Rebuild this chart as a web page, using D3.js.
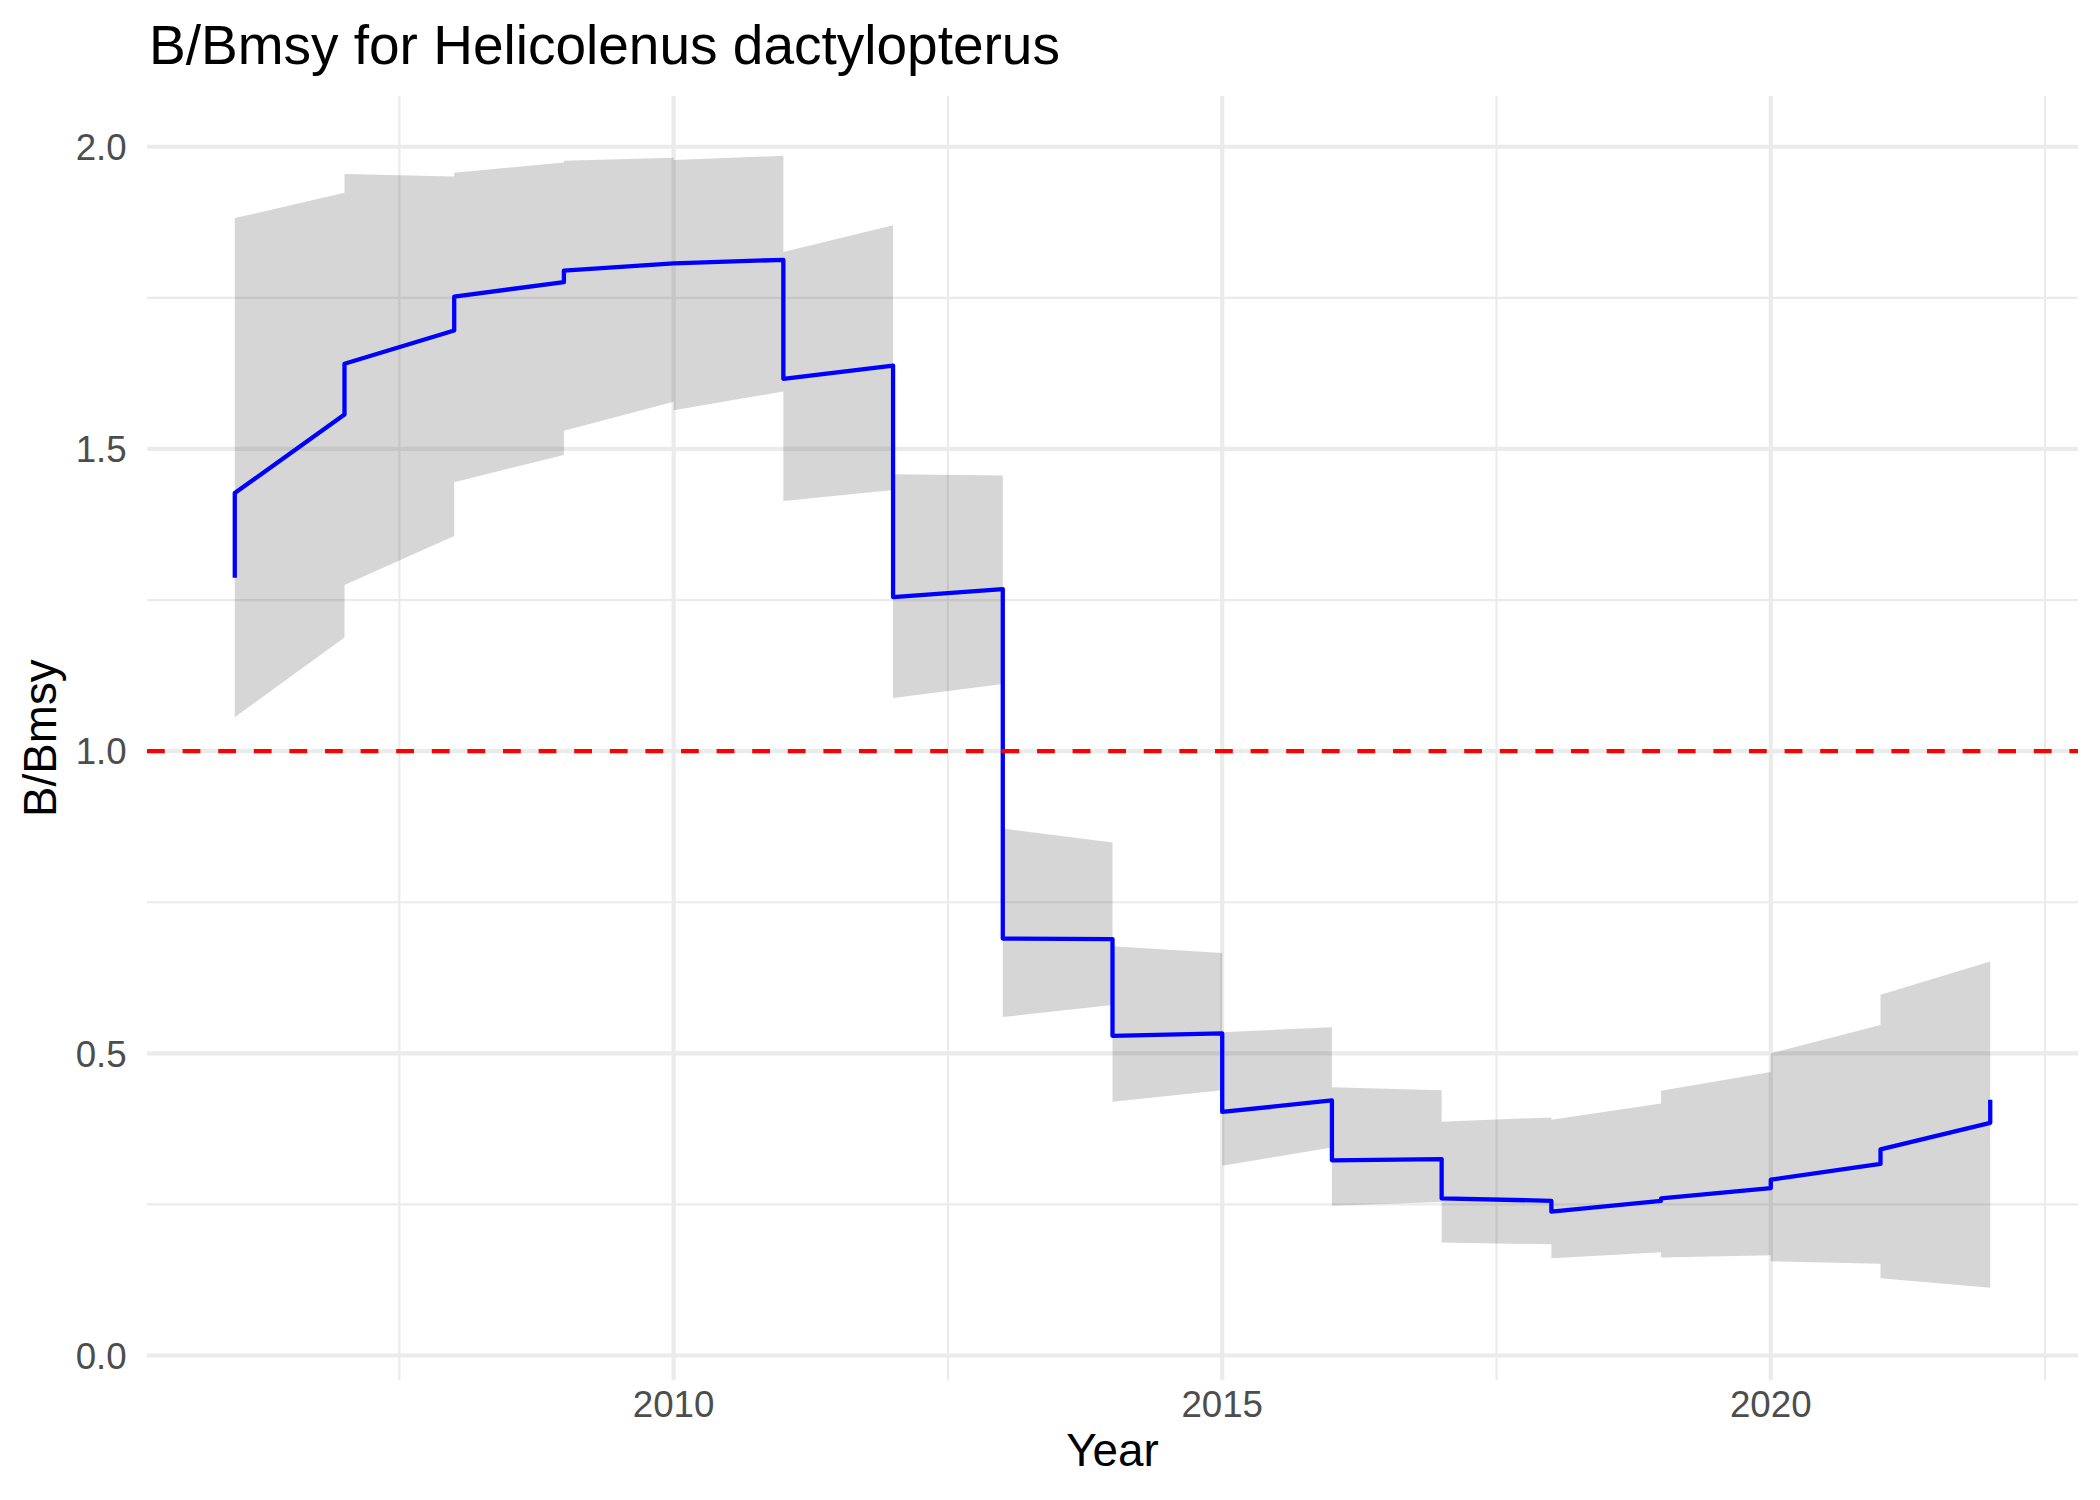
<!DOCTYPE html>
<html>
<head>
<meta charset="utf-8">
<script src="https://cdn.jsdelivr.net/npm/d3@7"></script>
<style>
  body { margin: 0; background: #fff; }
  text { font-family: "Liberation Sans", Arial, Helvetica, sans-serif; }
  .tick-label { font-size: 36.7px; fill: #4d4d4d; }
  .axis-label { font-size: 45.8px; fill: #000; }
  .title { font-size: 55px; fill: #000; }
</style>
</head>
<body>
<div id="main"></div>
<script>
// values, one entry per year boundary 2006..2022
// "In" = value arriving at the year, "Out" = value leaving it
const years = [2006, 2007, 2008, 2009, 2010, 2011, 2012, 2013, 2014,
               2015, 2016, 2017, 2018, 2019, 2020, 2021, 2022];
const bIn  = [1.287, 1.557, 1.696, 1.776, 1.807, 1.813, 1.638, 1.268, 0.689,
              0.533, 0.422, 0.325, 0.256, 0.256, 0.277, 0.317, 0.385];
const bOut = [1.427, 1.641, 1.752, 1.795, 1.807, 1.616, 1.255, 0.690, 0.529,
              0.403, 0.323, 0.260, 0.238, 0.260, 0.291, 0.341, 0.423];
const loIn  = [1.056, 1.188, 1.356, 1.490, 1.578, 1.595, 1.432, 1.111, 0.580,
               0.439, 0.344, 0.254, 0.184, 0.171, 0.166, 0.152, 0.112];
const loOut = [1.056, 1.275, 1.445, 1.530, 1.564, 1.414, 1.088, 0.560, 0.420,
               0.314, 0.248, 0.187, 0.161, 0.162, 0.156, 0.128, 0.112];
const hiIn  = [1.882, 1.924, 1.951, 1.974, 1.982, 1.985, 1.870, 1.456, 0.849,
               0.666, 0.543, 0.439, 0.394, 0.417, 0.469, 0.547, 0.652];
const hiOut = [1.882, 1.955, 1.957, 1.977, 1.978, 1.826, 1.458, 0.872, 0.677,
               0.535, 0.444, 0.387, 0.390, 0.438, 0.500, 0.597, 0.652];

const xTicks = [2010, 2015, 2020];
const xMinor = [2007.5, 2012.5, 2017.5, 2022.5];
const yTicks = [0, 0.5, 1, 1.5, 2];
const yMinor = [0.25, 0.75, 1.25, 1.75];
const refLevel = 1;

const title = 'B/Bmsy for Helicolenus dactylopterus';
const xAxisLabel = 'Year';
const yAxisLabel = 'B/Bmsy';

const width = 2100;
const height = 1500;
const panel = { left: 147, right: 2078, top: 96, bottom: 1380.3 };

const svg = d3.select('#main')
  .append('svg')
    .attr('width', width)
    .attr('height', height)
    .attr('viewBox', [0, 0, width, height]);

svg.append('rect')
    .attr('width', width)
    .attr('height', height)
    .attr('fill', '#fff');

const xScale = d3.scaleLinear()
  .domain([2005.2, 2022.8])
  .range([panel.left, panel.right]);

const yScale = d3.scaleLinear()
  .domain([-0.041, 2.084])
  .range([panel.bottom, panel.top]);

// grid
const grid = svg.append('g');
const hGrid = (vals, w) => grid.selectAll(null)
  .data(vals).enter().append('line')
    .attr('x1', panel.left).attr('x2', panel.right)
    .attr('y1', d => yScale(d)).attr('y2', d => yScale(d))
    .attr('stroke', '#ebebeb').attr('stroke-width', w);
const vGrid = (vals, w) => grid.selectAll(null)
  .data(vals).enter().append('line')
    .attr('y1', panel.top).attr('y2', panel.bottom)
    .attr('x1', d => xScale(d)).attr('x2', d => xScale(d))
    .attr('stroke', '#ebebeb').attr('stroke-width', w);
hGrid(yMinor, 2.2);
vGrid(xMinor, 2.2);
hGrid(yTicks, 4.2);
vGrid(xTicks, 4.2);

// build step-wise points: in then out at every year
const pts = [];
years.forEach((yr, i) => {
  pts.push({ x: yr, b: bIn[i], lo: loIn[i], hi: hiIn[i] });
  pts.push({ x: yr, b: bOut[i], lo: loOut[i], hi: hiOut[i] });
});

const area = d3.area()
  .x(d => xScale(d.x))
  .y0(d => yScale(d.lo))
  .y1(d => yScale(d.hi));

svg.append('path')
    .attr('d', area(pts))
    .attr('fill', '#333333')
    .attr('fill-opacity', 0.2);

const lineGenerator = d3.line()
  .x(d => xScale(d.x))
  .y(d => yScale(d.b));

svg.append('path')
    .attr('d', lineGenerator(pts))
    .attr('fill', 'none')
    .attr('stroke', '#0000ff')
    .attr('stroke-width', 4.3)
    .attr('stroke-linejoin', 'round')
    .attr('stroke-linecap', 'butt');

svg.append('line')
    .attr('x1', panel.left).attr('x2', panel.right)
    .attr('y1', yScale(refLevel)).attr('y2', yScale(refLevel))
    .attr('stroke', '#ff0000')
    .attr('stroke-width', 4.3)
    .attr('stroke-dasharray', '17.8 17.8');

// axes (ggplot minimal: labels only)
const fmt = d3.format('.1f');
svg.append('g').selectAll('text')
  .data(yTicks).enter().append('text')
    .attr('class', 'tick-label')
    .attr('x', 126.7)
    .attr('y', d => yScale(d))
    .attr('dy', '0.36em')
    .attr('text-anchor', 'end')
    .text(fmt);

svg.append('g').selectAll('text')
  .data(xTicks).enter().append('text')
    .attr('class', 'tick-label')
    .attr('x', d => xScale(d))
    .attr('y', 1417)
    .attr('text-anchor', 'middle')
    .text(d => d);

svg.append('text')
    .attr('class', 'axis-label')
    .attr('x', (panel.left + panel.right) / 2)
    .attr('y', 1466)
    .attr('text-anchor', 'middle')
    .text(xAxisLabel);

svg.append('text')
    .attr('class', 'axis-label')
    .attr('transform', `translate(56,${(panel.top + panel.bottom) / 2}) rotate(-90)`)
    .attr('text-anchor', 'middle')
    .text(yAxisLabel);

svg.append('text')
    .attr('class', 'title')
    .attr('x', 149)
    .attr('y', 64)
    .text(title);
</script>
</body>
</html>
